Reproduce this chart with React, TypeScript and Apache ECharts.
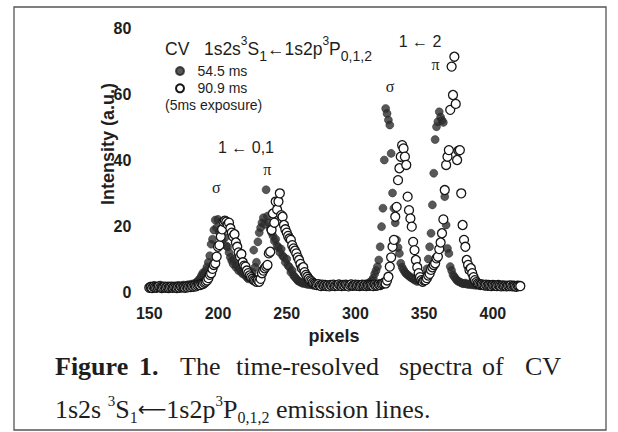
import React, { useEffect, useRef } from "react";
import * as echarts from "echarts";

// detector pixel of the first sample in each series (one sample per pixel)
const pixelStart = 150;

// 54.5 ms spectrum (filled dots), pixels 150..418
const early54: number[] = [
  1.6, 1.8, 1.5, 1.9, 2.0, 1.7, 1.6, 1.8, 2.1, 1.9,
  1.7, 1.5, 1.8, 1.6, 1.9, 1.7, 1.5, 1.8, 1.6, 1.9,
  1.7, 2.0, 1.8, 1.6, 1.9, 2.1, 1.8, 2.0, 2.2, 1.9,
  2.3, 2.1, 2.5, 2.4, 2.8, 3.2, 3.6, 4.2, 5.0, 5.8,
  5.5, 6.5, 7.6, 9.0, 11.0, 14.5, 16.0, 18.8, 21.8, 19.5,
  22.0, 18.0, 17.0, 15.5, 19.0, 16.5, 14.0, 13.6, 12.0, 10.5,
  9.5, 8.5, 10.0, 7.5, 8.0, 6.5, 7.0, 6.0, 5.5, 6.0,
  5.0, 4.5, 4.0, 4.2, 5.0, 6.0, 12.7, 7.5, 9.0, 15.2,
  18.0, 19.5, 21.0, 22.5, 20.5, 31.0, 23.0, 21.0, 19.0, 18.0,
  17.0, 15.5, 16.0, 14.0, 13.5, 12.0, 13.0, 11.0, 10.5, 9.0,
  10.0, 8.0, 7.5, 6.0, 6.5, 5.0, 4.5, 4.0, 3.5, 3.2,
  3.0, 2.8, 2.6, 2.9, 2.5, 2.3, 2.6, 2.2, 2.4, 2.1,
  2.0, 2.3, 1.9, 2.2, 2.0, 1.8, 2.1, 1.9, 2.2, 2.0,
  1.8, 2.1, 1.9, 2.3, 2.0, 1.8, 2.2, 1.9, 2.1, 2.0,
  1.8, 2.2, 2.0, 1.9, 2.3, 2.1, 1.8, 2.0, 2.2, 1.9,
  2.1, 1.9, 2.3, 2.0, 2.2, 1.8, 2.1, 2.4, 2.2, 2.6,
  2.8, 3.0, 3.5, 4.2, 5.5, 6.5, 7.7, 9.7, 13.7, 19.8,
  25.4, 40.0, 55.6, 54.1, 52.1, 50.6, 42.0, 30.0, 25.4, 21.0,
  15.8, 13.5, 11.7, 8.7, 7.5, 6.7, 6.0, 5.5, 5.2, 4.8,
  4.5, 4.2, 4.0, 3.6, 3.8, 3.2, 3.5, 3.3, 3.8, 4.0,
  4.5, 5.0, 7.0, 10.0, 13.7, 17.8, 26.4, 36.0, 46.2, 50.1,
  51.6, 54.6, 53.0, 52.0, 51.4, 28.9, 20.3, 13.2, 11.7, 7.7,
  6.5, 5.2, 4.6, 4.0, 3.5, 3.2, 3.0, 2.8, 2.6, 2.5,
  2.7, 2.4, 2.3, 2.5, 2.2, 2.4, 2.1, 2.3, 2.0, 2.2,
  2.1, 1.9, 2.2, 2.0, 1.8, 2.1, 1.9, 2.0, 1.8, 2.1,
  1.9, 1.7, 2.0, 1.8, 1.9, 1.7, 2.0, 1.8, 1.6, 1.9,
  1.7, 1.8, 1.6, 1.9, 1.7, 1.5, 1.8, 1.6, 1.7,
];

// 90.9 ms spectrum (open circles), pixels 150..420
const late909: number[] = [
  1.3, 1.5, 1.2, 1.6, 1.4, 1.3, 1.5, 1.7, 1.4, 1.2,
  1.4, 1.6, 1.3, 1.5, 1.2, 1.4, 1.6, 1.3, 1.5, 1.4,
  1.2, 1.5, 1.3, 1.6, 1.4, 1.5, 1.3, 1.6, 1.4, 1.7,
  1.5, 1.8, 1.6, 1.9, 1.7, 2.0, 2.2, 2.1, 2.5, 2.4,
  2.8, 3.1, 3.5, 4.2, 5.2, 5.7, 7.0, 8.2, 8.7, 10.7,
  13.7, 14.2, 16.8, 19.0, 21.3, 21.6, 21.3, 20.5, 21.0, 19.3,
  18.0, 16.8, 17.5, 15.0, 13.7, 12.0, 10.7, 11.5, 9.0, 8.0,
  7.7, 6.5, 5.7, 5.0, 4.5, 4.0, 3.6, 3.4, 3.1, 3.5,
  3.1, 4.0, 5.7, 6.5, 7.2, 7.7, 8.2, 11.7, 12.2, 18.8,
  23.8, 21.0, 27.4, 25.0, 27.4, 29.9, 23.3, 22.8, 20.3, 19.0,
  18.0, 17.0, 16.2, 15.8, 14.2, 13.2, 12.5, 11.7, 10.5, 9.7,
  8.5, 7.2, 7.5, 6.0, 5.2, 4.6, 4.0, 3.5, 3.2, 2.8,
  2.5, 2.3, 2.1, 2.4, 2.0, 1.8, 2.2, 1.9, 2.1, 1.8,
  2.0, 1.7, 2.1, 1.9, 2.2, 1.8, 2.0, 1.9, 2.3, 2.0,
  1.8, 2.1, 1.9, 2.2, 2.0, 1.7, 2.1, 2.3, 1.9, 2.0,
  2.2, 1.9, 2.1, 1.8, 2.0, 2.2, 1.9, 2.1, 1.8, 2.0,
  1.9, 2.1, 2.0, 1.8, 2.2, 1.9, 2.0, 2.3, 2.1, 2.4,
  2.6, 2.8, 2.6, 3.5, 4.6, 7.7, 10.5, 13.7, 15.8, 22.8,
  25.8, 33.9, 37.5, 41.0, 44.5, 43.5, 41.0, 38.5, 28.9, 24.8,
  22.3, 19.8, 15.2, 12.7, 9.7, 7.5, 5.7, 4.5, 3.6, 3.1,
  3.5, 3.6, 4.2, 5.0, 5.5, 6.7, 7.5, 8.2, 8.7, 10.2,
  10.7, 13.0, 15.0, 17.8, 22.0, 30.9, 38.5, 41.0, 43.0, 55.2,
  68.3, 59.7, 71.3, 57.0, 40.0, 42.8, 43.0, 29.9, 20.3, 15.8,
  13.7, 9.7, 8.2, 6.7, 7.2, 5.7, 4.5, 3.6, 3.0, 2.6,
  2.4, 2.2, 2.3, 2.1, 2.0, 2.2, 1.9, 2.1, 2.0, 1.8,
  2.1, 1.9, 2.0, 1.8, 2.1, 1.9, 1.7, 2.0, 1.8, 1.9,
  1.7, 1.9, 1.8, 2.0, 1.7, 1.9, 1.8, 1.6, 1.9, 1.8, 1.8,
];

const seriesNames = ["54.5 ms", "90.9 ms"];
const xRange = [150, 425];
const yRange = [0, 80];

const SANS = "'Liberation Sans', Arial, sans-serif";
const SERIF = "'Liberation Serif', 'Times New Roman', serif";
const ARROW = "'DejaVu Sans', 'Liberation Serif', serif";
const INK = "#1e1e1e";

export default function App() {
  const ref = useRef<HTMLDivElement>(null);

  useEffect(() => {
    if (!ref.current) return;
    const chart = echarts.init(ref.current, null, { renderer: "svg" });
    const toPts = (arr: number[]) => arr.map((v, i) => [pixelStart + i, v]);

    const capWord = (text: string, x: number, bold = false) => ({
      type: "text",
      x,
      y: 366,
      style: {
        text,
        fill: INK,
        font: `${bold ? "bold " : ""}26px ${SERIF}`,
        verticalAlign: "middle",
        align: "left",
      },
    });

    chart.setOption({
      animation: false,
      backgroundColor: "#ffffff",
      grid: { left: 149.3, right: 90.8, top: 28, bottom: 140 },
      xAxis: {
        type: "value",
        min: xRange[0],
        max: xRange[1],
        interval: 50,
        axisLine: { show: false },
        axisTick: { show: false },
        splitLine: { show: false },
        axisLabel: {
          showMaxLabel: false,
          margin: 13,
          fontSize: 16,
          fontWeight: "bold",
          color: INK,
          fontFamily: SANS,
        },
      },
      yAxis: {
        type: "value",
        min: yRange[0],
        max: yRange[1],
        interval: 20,
        axisLine: { show: false },
        axisTick: { show: false },
        splitLine: { show: false },
        axisLabel: {
          margin: 18,
          fontSize: 16,
          fontWeight: "bold",
          color: INK,
          fontFamily: SANS,
        },
      },
      legend: {
        orient: "vertical",
        left: 175,
        top: 64,
        padding: 0,
        itemWidth: 25,
        itemHeight: 8,
        itemGap: 3.3,
        data: seriesNames,
        textStyle: { fontSize: 14, color: INK, fontFamily: SANS, lineHeight: 14 },
      },
      series: [
        {
          type: "scatter",
          name: seriesNames[0],
          data: toPts(early54),
          symbol: "circle",
          symbolSize: 8,
          itemStyle: { color: "#2e2e2e", borderColor: "#222", borderWidth: 0.6 },
          z: 2,
        },
        {
          type: "scatter",
          name: seriesNames[1],
          data: toPts(late909),
          symbol: "circle",
          symbolSize: 9,
          itemStyle: { color: "#ffffff", borderColor: "#151515", borderWidth: 1.3, opacity: 1 },
          z: 3,
        },
      ],
      graphic: [
        {
          type: "rect",
          shape: { x: 14, y: 7, width: 592, height: 423 },
          style: { fill: "none", stroke: "#555", lineWidth: 1.3 },
          silent: true,
        },
        {
          type: "text",
          x: 165,
          y: 49,
          style: {
            text: "{m|CV   1s2s}{sup|3}{m|S}{sub|1}{m|←1s2p}{sup|3}{m|P}{sub|0,1,2}",
            verticalAlign: "middle",
            align: "left",
            fill: INK,
            rich: {
              m: { fontSize: 17.5, lineHeight: 28, fontFamily: SANS, fill: INK },
              sup: { fontSize: 12, lineHeight: 10, verticalAlign: "top", fontFamily: SANS, fill: INK },
              sub: { fontSize: 14, lineHeight: 20, verticalAlign: "bottom", fontFamily: SANS, fill: INK },
            },
          },
        },
        {
          type: "text",
          x: 165,
          y: 105,
          style: { text: "(5ms exposure)", font: `14px ${SANS}`, fill: INK, verticalAlign: "middle" },
        },
        {
          type: "text",
          x: 420,
          y: 41,
          style: { text: "1 ← 2", font: `16px ${SANS}`, fill: INK, align: "center", verticalAlign: "middle" },
        },
        {
          type: "text",
          x: 435.6,
          y: 64.5,
          style: { text: "π", font: `16px ${SERIF}`, fill: INK, align: "center", verticalAlign: "middle" },
        },
        {
          type: "text",
          x: 390,
          y: 86,
          style: { text: "σ", font: `16px ${SERIF}`, fill: INK, align: "center", verticalAlign: "middle" },
        },
        {
          type: "text",
          x: 246,
          y: 147,
          style: { text: "1 ← 0,1", font: `16px ${SANS}`, fill: INK, align: "center", verticalAlign: "middle" },
        },
        {
          type: "text",
          x: 267.4,
          y: 169.5,
          style: { text: "π", font: `16px ${SERIF}`, fill: INK, align: "center", verticalAlign: "middle" },
        },
        {
          type: "text",
          x: 216.4,
          y: 187.5,
          style: { text: "σ", font: `16px ${SERIF}`, fill: INK, align: "center", verticalAlign: "middle" },
        },
        {
          type: "text",
          x: 108,
          y: 144,
          rotation: Math.PI / 2,
          style: {
            text: "Intensity (a.u.)",
            font: `bold 18px ${SANS}`,
            fill: INK,
            align: "center",
            verticalAlign: "middle",
          },
        },
        {
          type: "text",
          x: 334,
          y: 336,
          style: { text: "pixels", font: `bold 18px ${SANS}`, fill: INK, align: "center", verticalAlign: "middle" },
        },
        capWord("Figure", 55, true),
        capWord("1.", 139, true),
        capWord("The", 180),
        capWord("time-resolved", 236),
        capWord("spectra", 399),
        capWord("of", 482),
        capWord("CV", 525),
        {
          type: "text",
          x: 55,
          y: 409,
          style: {
            text: "{m|1s2s }{sup|3}{m|S}{sub|1}{ar|⟵}{m|1s2p}{sup|3}{m|P}{sub|0,1,2}{m| emission lines.}",
            verticalAlign: "middle",
            align: "left",
            fill: INK,
            rich: {
              m: { fontSize: 26, lineHeight: 32, fontFamily: SERIF, fill: INK },
              ar: { fontSize: 20, lineHeight: 32, fontFamily: ARROW, fill: INK },
              sup: { fontSize: 15, lineHeight: 22, verticalAlign: "top", fontFamily: SERIF, fill: INK },
              sub: { fontSize: 16, lineHeight: 15, verticalAlign: "bottom", fontFamily: SERIF, fill: INK },
            },
          },
        },
      ],
    });

    return () => chart.dispose();
  }, []);

  return (
    <div
      ref={ref}
      style={{ position: "fixed", left: 0, top: 0, width: 618, height: 432, background: "#fff" }}
    />
  );
}
